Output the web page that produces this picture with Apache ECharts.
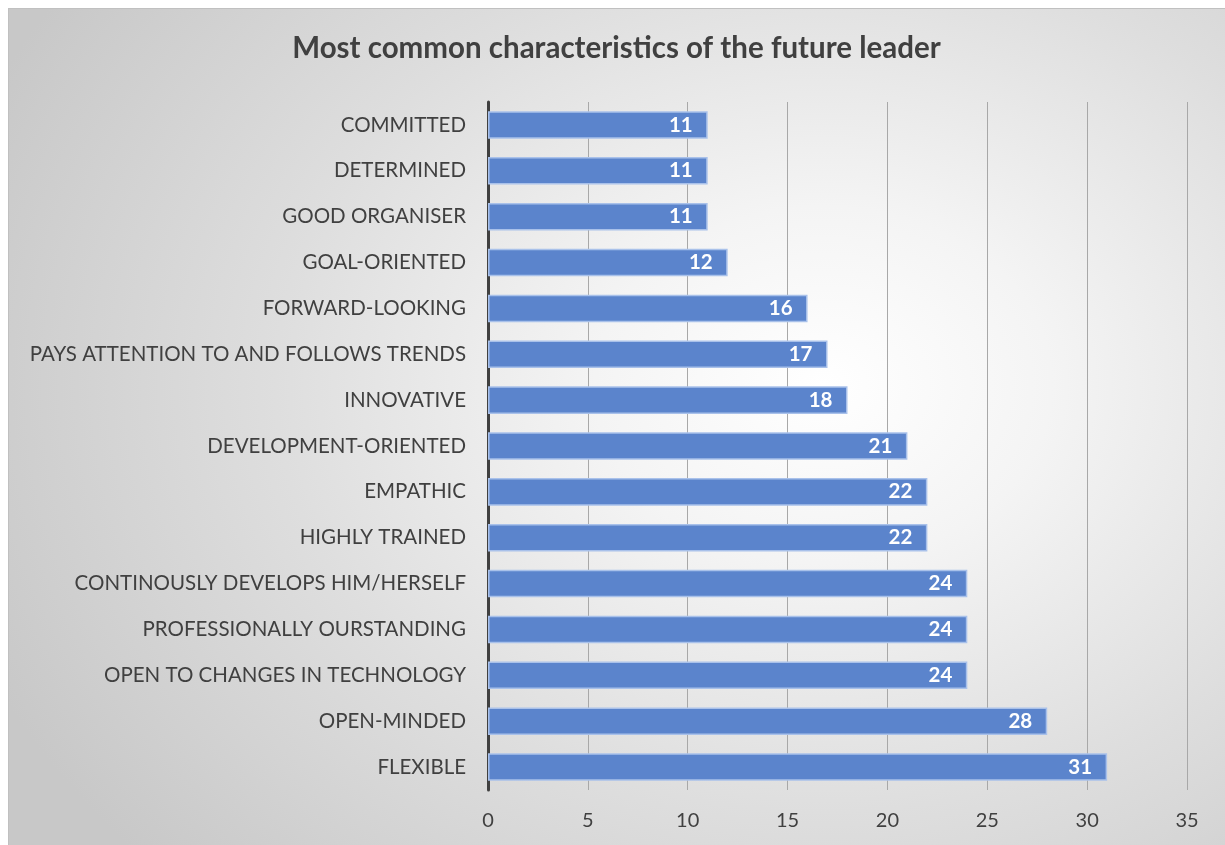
<!DOCTYPE html>
<html>
<head>
<meta charset="utf-8">
<script src="https://cdn.jsdelivr.net/npm/echarts@6/dist/echarts.min.js"></script>
<style>
html,body{margin:0;padding:0;background:#ffffff;}
#c{position:absolute;left:8px;top:8px;width:1217px;height:837px;
background:radial-gradient(ellipse 75% 85% at 67% 45%, #ffffff 0%, #f4f4f4 25%, #dedede 60%, #c8c8c8 100%);
box-shadow: inset 1px 1px 0 #c0c0c0;}
</style>
</head>
<body>
<div id="c"></div>
<script>
const title = 'Most common characteristics of the future leader';
const categories = [
  'COMMITTED','DETERMINED','GOOD ORGANISER','GOAL-ORIENTED','FORWARD-LOOKING',
  'PAYS ATTENTION TO AND FOLLOWS TRENDS','INNOVATIVE','DEVELOPMENT-ORIENTED',
  'EMPATHIC','HIGHLY TRAINED','CONTINOUSLY DEVELOPS HIM/HERSELF',
  'PROFESSIONALLY OURSTANDING','OPEN TO CHANGES IN TECHNOLOGY','OPEN-MINDED','FLEXIBLE'
];
const values = [11,11,11,12,16,17,18,21,22,22,24,24,24,28,31];
const xTicks = {min:0, max:35, interval:5};

const chart = echarts.init(document.getElementById('c'), null, {renderer:'canvas'});
const FONT = 'Lato';
chart.setOption({
  backgroundColor: 'transparent',
  title: {
    text: title, left: 'center', top: 20,
    textStyle: {fontFamily: FONT, fontSize: 29.5, fontWeight: 'bold', color: '#404040'}
  },
  grid: {left: 480, right: 38, top: 94, bottom: 55, containLabel: false},
  xAxis: {
    type: 'value', min: xTicks.min, max: xTicks.max, interval: xTicks.interval,
    axisLine: {show: false}, axisTick: {show: false},
    axisLabel: {fontFamily: FONT, fontSize: 20, color: '#404040', margin: 21},
    splitLine: {show: true, lineStyle: {color: '#a8a8a8', width: 1}}
  },
  yAxis: {
    type: 'category', data: categories, inverse: true,
    axisLine: {show: true, lineStyle: {color: '#404040', width: 3}},
    axisTick: {show: false},
    axisLabel: {fontFamily: FONT, fontSize: 20.5, color: '#404040', margin: 22}
  },
  series: [{
    type: 'bar', data: values, barCategoryGap: '40%',
    itemStyle: {color: '#5b84cc', borderColor: '#a9c1ea', borderWidth: 1.5},
    label: {show: true, position: 'insideRight', distance: 15,
      fontFamily: FONT, fontSize: 20.5, fontWeight: 'bold', color: '#ffffff'},
    z: 3
  }],
  animation: false
});
</script>
</body>
</html>
